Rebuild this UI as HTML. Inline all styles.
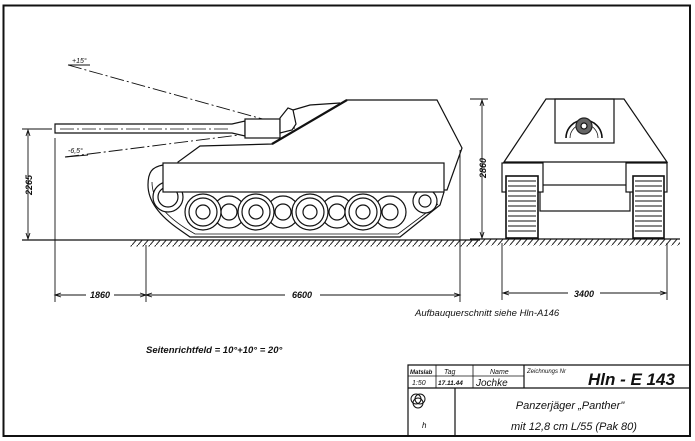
<!DOCTYPE html>
<html><head><meta charset="utf-8"><style>
html,body{margin:0;padding:0;background:#fff;}
svg{display:block}
text{font-family:"Liberation Sans",sans-serif;font-style:italic;fill:#111;}
</style></head><body>
<svg width="695" height="441" viewBox="0 0 695 441" xmlns="http://www.w3.org/2000/svg">
<defs>
<pattern id="hatch" width="6" height="7" patternUnits="userSpaceOnUse">
<path d="M0,7 L6,0" stroke="#222" stroke-width="1"/>
</pattern>
</defs>
<g fill="none" stroke="#111" stroke-width="1.2">
<rect x="3.5" y="5.5" width="686.5" height="430.5" stroke-width="2"/>

<line x1="22" y1="240" x2="480" y2="240" stroke-width="1.3"/>
<rect x="130" y="240.5" width="350" height="6" fill="url(#hatch)" stroke="none"/>
<line x1="470" y1="239" x2="680" y2="239" stroke-width="1.3"/>
<rect x="470" y="239.5" width="210" height="6" fill="url(#hatch)" stroke="none"/>

<line x1="68" y1="65" x2="295" y2="128" stroke-dasharray="14,3,2,3" stroke-width="0.9"/>
<line x1="68" y1="65" x2="90" y2="65" stroke-width="0.9"/>
<line x1="65" y1="157" x2="295" y2="128" stroke-dasharray="14,3,2,3" stroke-width="0.9"/>
<line x1="65" y1="157" x2="88" y2="155" stroke-width="0.9"/>

<path d="M55,124 L232,124 L245,121 L245,136 L232,133 L55,133 Z" fill="#fff"/>
<line x1="60" y1="129" x2="230" y2="129" stroke-dasharray="14,3,2,3" stroke-width="0.7"/>
<rect x="245" y="119" width="35" height="19" fill="#fff"/>
<path d="M280,118 L288,108 L293,110 L296,124 L292,130 L280,133 Z" fill="#fff"/>

<path d="M200,146 L272,144 L347,100 L437,100 L462,148 L447,190 L178,190 L178,162 Z" fill="#fff"/>
<line x1="272" y1="144" x2="347" y2="100" stroke-width="2.2"/>
<path d="M293,110 L310,105 L340,103" />

<path d="M163,165 C152,167 148,172 148,185 C148,200 158,215 180,230 L190,237 L400,237 L440,205 L444,192" fill="#fff"/>
<path d="M152,182 C152,200 165,215 185,228 L195,234 L398,234 L438,204" stroke-width="0.8"/>

<g fill="#fff">
<circle cx="229" cy="212" r="16"/><circle cx="229" cy="212" r="8"/>
<circle cx="283" cy="212" r="16"/><circle cx="283" cy="212" r="8"/>
<circle cx="337" cy="212" r="16"/><circle cx="337" cy="212" r="8"/>
<circle cx="390" cy="212" r="16"/><circle cx="390" cy="212" r="8"/>
</g>
<g fill="#fff">
<circle cx="168" cy="197" r="15"/><circle cx="168" cy="197" r="10"/>
<circle cx="425" cy="201" r="12"/><circle cx="425" cy="201" r="6"/>
</g>
<g fill="#fff">
<circle cx="203" cy="212" r="18"/><circle cx="203" cy="212" r="14"/><circle cx="203" cy="212" r="7"/>
<circle cx="256" cy="212" r="18"/><circle cx="256" cy="212" r="14"/><circle cx="256" cy="212" r="7"/>
<circle cx="310" cy="212" r="18"/><circle cx="310" cy="212" r="14"/><circle cx="310" cy="212" r="7"/>
<circle cx="363" cy="212" r="18"/><circle cx="363" cy="212" r="14"/><circle cx="363" cy="212" r="7"/>
</g>

<rect x="163" y="163" width="281" height="29" fill="#fff"/>

<line x1="22" y1="129" x2="52" y2="129" stroke-width="0.9"/>
<line x1="28" y1="131" x2="28" y2="238" stroke-width="0.9"/>
<path d="M26,136 L28,130 L30,136 M26,233 L28,239 L30,233" stroke-width="0.9"/>
<line x1="55" y1="138" x2="55" y2="302" stroke-width="0.9"/>
<line x1="146" y1="245" x2="146" y2="302" stroke-width="0.9"/>
<line x1="460" y1="150" x2="460" y2="302" stroke-width="0.9"/>
<line x1="56" y1="295" x2="86" y2="295" stroke-width="0.9"/>
<line x1="114" y1="295" x2="145" y2="295" stroke-width="0.9"/>
<line x1="147" y1="295" x2="285" y2="295" stroke-width="0.9"/>
<line x1="320" y1="295" x2="459" y2="295" stroke-width="0.9"/>
<path d="M61,293 L55,295 L61,297 M140,293 L146,295 L140,297 M152,293 L146,295 L152,297 M454,293 L460,295 L454,297" stroke-width="0.9"/>

<path d="M546,99 L624,99 L667,162 L504,162 Z" fill="#fff"/>
<rect x="555" y="99" width="59" height="44"/>
<path d="M566,138 A18,18 0 1,1 602,138" stroke-width="1.6"/>
<path d="M570,138 A14,14 0 1,1 598,138" stroke-width="0.8"/>
<circle cx="584" cy="126" r="8" fill="#666" stroke="#222"/>
<circle cx="584" cy="126" r="3" fill="#fff"/>
<rect x="540" y="185" width="90" height="26" fill="#fff"/>
<rect x="502" y="163" width="41" height="29" fill="#fff"/>
<rect x="626" y="163" width="41" height="29" fill="#fff"/>
<rect x="506" y="176" width="32" height="62" fill="#fff" stroke-width="1.6"/>
<rect x="633" y="176" width="31" height="62" fill="#fff" stroke-width="1.6"/>
<g stroke-width="0.9">
<path d="M508,181H536M508,186H536M508,191H536M508,196H536M508,201H536M508,206H536M508,211H536M508,216H536M508,221H536M508,226H536M508,231H536"/>
<path d="M635,181H662M635,186H662M635,191H662M635,196H662M635,201H662M635,206H662M635,211H662M635,216H662M635,221H662M635,226H662M635,231H662"/>
</g>
<line x1="470" y1="99" x2="488" y2="99" stroke-width="0.9"/>
<line x1="482" y1="101" x2="482" y2="238" stroke-width="0.9"/>
<path d="M480,106 L482,100 L484,106 M480,232 L482,238 L484,232" stroke-width="0.9"/>
<line x1="502" y1="243" x2="502" y2="300" stroke-width="0.9"/>
<line x1="667" y1="243" x2="667" y2="300" stroke-width="0.9"/>
<line x1="503" y1="293" x2="568" y2="293" stroke-width="0.9"/>
<line x1="600" y1="293" x2="666" y2="293" stroke-width="0.9"/>
<path d="M509,291 L503,293 L509,295 M660,291 L666,293 L660,295" stroke-width="0.9"/>

<path d="M408,436 L408,365 L690,365"/>
<line x1="408" y1="388" x2="690" y2="388"/>
<line x1="408" y1="376" x2="524" y2="376" stroke-width="0.8"/>
<line x1="436" y1="365" x2="436" y2="388" stroke-width="0.8"/>
<line x1="473" y1="365" x2="473" y2="388" stroke-width="0.8"/>
<line x1="524" y1="365" x2="524" y2="388"/>
<line x1="455" y1="388" x2="455" y2="436"/>
<circle cx="416" cy="399" r="5" stroke-width="1"/>
<circle cx="420" cy="399" r="5" stroke-width="1"/>
<circle cx="418" cy="403" r="5" stroke-width="1"/>
</g>

<text x="72" y="63" font-size="7">+15°</text>
<text x="68" y="153" font-size="7">-6,5°</text>
<text x="0" y="0" font-size="9" font-weight="bold" transform="translate(32 185) rotate(-90)" text-anchor="middle">2265</text>
<text x="0" y="0" font-size="9" font-weight="bold" transform="translate(486 168) rotate(-90)" text-anchor="middle">2860</text>
<text x="100" y="298" font-size="9" font-weight="bold" text-anchor="middle">1860</text>
<text x="302" y="298" font-size="9" font-weight="bold" text-anchor="middle">6600</text>
<text x="584" y="297" font-size="9" font-weight="bold" text-anchor="middle">3400</text>
<text x="415" y="316" font-size="9.5">Aufbauquerschnitt siehe Hln-A146</text>
<text x="146" y="353" font-size="9.5" font-weight="bold">Seitenrichtfeld = 10°+10° = 20°</text>
<text x="410" y="374" font-size="6" font-weight="bold">Matslab</text>
<text x="444" y="374" font-size="7">Tag</text>
<text x="490" y="374" font-size="7">Name</text>
<text x="527" y="373" font-size="6">Zeichnungs Nr</text>
<text x="588" y="385" font-size="17" font-weight="bold">Hln - E 143</text>
<text x="412" y="385" font-size="7">1:50</text>
<text x="438" y="385" font-size="6.5" font-weight="bold">17.11.44</text>
<text x="476" y="386" font-size="10">Jochke</text>
<text x="422" y="428" font-size="8">h</text>
<text x="570" y="409" font-size="11" text-anchor="middle">Panzerjäger „Panther"</text>
<text x="574" y="430" font-size="11" text-anchor="middle">mit 12,8 cm L/55 (Pak 80)</text>
</svg>
</body></html>
